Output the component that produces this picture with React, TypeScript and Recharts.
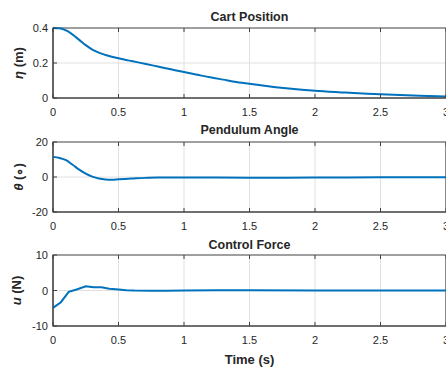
import { Line, LineChart, XAxis, YAxis, CartesianGrid, ReferenceArea } from "recharts";

const timeTicks = [0, 0.5, 1, 1.5, 2, 2.5, 3];

const cartTime = [0, 0.05, 0.1, 0.15, 0.2, 0.25, 0.3, 0.35, 0.4, 0.5, 0.6, 0.7, 0.8, 0.9, 1.0, 1.1, 1.2, 1.3, 1.4, 1.5, 1.6, 1.7, 1.8, 1.9, 2.0, 2.2, 2.4, 2.6, 2.8, 3.0];
const cartPos = [0.4, 0.398, 0.386, 0.362, 0.332, 0.302, 0.277, 0.259, 0.246, 0.227, 0.211, 0.196, 0.18, 0.164, 0.148, 0.133, 0.118, 0.105, 0.092, 0.081, 0.071, 0.062, 0.054, 0.047, 0.041, 0.032, 0.024, 0.018, 0.013, 0.009];
const cartTicks = [0, 0.2, 0.4];

const angleTime = [0, 0.05, 0.1, 0.15, 0.2, 0.25, 0.3, 0.35, 0.4, 0.45, 0.5, 0.6, 0.7, 0.8, 1.0, 1.5, 2.0, 2.5, 3.0];
const angleDeg = [11.5, 10.9, 9.6, 7.0, 4.2, 1.9, 0.2, -0.9, -1.4, -1.5, -1.3, -0.9, -0.5, -0.3, -0.3, -0.4, -0.3, -0.2, -0.1];
const angleTicks = [-20, 0, 20];

const forceTime = [0, 0.06, 0.12, 0.18, 0.25, 0.31, 0.37, 0.43, 0.5, 0.56, 0.62, 0.75, 0.87, 1.0, 1.25, 1.5, 2.0, 2.5, 3.0];
const forceN = [-4.9, -3.3, -0.4, 0.3, 1.2, 0.9, 0.9, 0.5, 0.3, 0.1, 0.0, -0.1, -0.1, 0, 0.05, 0.05, 0.03, 0.02, 0.01];
const forceTicks = [-10, 0, 10];

const cartData = cartTime.map((t, i) => ({ t, v: cartPos[i] }));
const angleData = angleTime.map((t, i) => ({ t, v: angleDeg[i] }));
const forceData = forceTime.map((t, i) => ({ t, v: forceN[i] }));

const W = 446;
const LEFT = 53;
const INK = "#262626";
const FRAME = "#404040";
const BLUE = "#0072BD";

function XTick(props: any) {
    const { x, y, payload, plotH } = props;
    const axisY = y - 6;
    return (
        <g>
            <line x1={x} x2={x} y1={axisY} y2={axisY - 4} stroke={FRAME} />
            <line x1={x} x2={x} y1={axisY - plotH} y2={axisY - plotH + 4} stroke={FRAME} />
            <text x={x} y={axisY + 18} textAnchor="middle" fontSize={11} fill={INK}>{payload.value}</text>
        </g>
    );
}

function YTick(props: any) {
    const { x, y, payload } = props;
    const axisX = x + 6;
    return (
        <g>
            <line x1={axisX} x2={axisX + 4} y1={y} y2={y} stroke={FRAME} />
            <text x={axisX - 5} y={y + 4} textAnchor="end" fontSize={11} fill={INK}>{payload.value}</text>
        </g>
    );
}

function Panel(props: {
    data: { t: number; v: number }[];
    domain: [number, number];
    ticks: number[];
    top: number;
    plotH: number;
    bottom: number;
    sym: string;
    unit: string;
    labelX: number;
    linear?: boolean;
    timeLabel?: boolean;
}) {
    const { data, domain, ticks, top, plotH, bottom, sym, unit, labelX, linear, timeLabel } = props;
    const height = top + plotH + bottom;
    return (
        <LineChart width={W} height={height} data={data} margin={{ top, right: 0, left: 0, bottom: 0 }}>
            <CartesianGrid stroke="#e0e0e0" horizontalValues={ticks.slice(1, -1)} verticalValues={timeTicks.slice(1, -1)} />
            <ReferenceArea x1={0} x2={3} y1={domain[0]} y2={domain[1]} fill="none" stroke={FRAME} strokeWidth={1.2} />
            <XAxis
                dataKey="t"
                type="number"
                domain={[0, 3]}
                ticks={timeTicks}
                interval={0}
                height={bottom}
                tickSize={0}
                tickMargin={6}
                stroke={FRAME}
                tick={<XTick plotH={plotH} />}
                label={timeLabel ? {
                    value: "Time (s)",
                    position: "insideBottom",
                    offset: 4,
                    fill: INK,
                    fontSize: 13,
                    fontWeight: "bold",
                } : undefined}
            />
            <YAxis
                type="number"
                domain={domain}
                ticks={ticks}
                interval={0}
                width={LEFT}
                tickSize={0}
                tickMargin={6}
                stroke={FRAME}
                tick={<YTick />}
                label={{
                    content: (lp: any) => {
                        const vb = lp.viewBox;
                        const cx = labelX;
                        const cy = vb.y + vb.height / 2;
                        return (
                            <text x={cx} y={cy} transform={`rotate(-90 ${cx} ${cy})`} textAnchor="middle" fontSize={13} fontWeight="bold" fill={INK}>
                                <tspan fontStyle="italic">{sym}</tspan>
                                <tspan>{unit}</tspan>
                            </text>
                        );
                    },
                }}
            />
            <Line dataKey="v" type={linear ? "linear" : "monotone"} stroke={BLUE} strokeWidth={2} dot={false} isAnimationActive={false} />
        </LineChart>
    );
}

const titleStyle = (top: number): React.CSSProperties => ({
    position: "absolute",
    top,
    left: LEFT,
    width: W - LEFT,
    textAlign: "center",
    fontSize: 12.5,
    fontWeight: "bold",
    color: INK,
    lineHeight: "14px",
});

export default function App() {
    return (
        <div style={{ position: "absolute", top: 0, left: 0, width: W, height: 368, background: "#fff", fontFamily: "'Liberation Sans', Arial, sans-serif" }}>
            <div style={{ position: "absolute", top: 0, left: 0 }}>
                <Panel data={cartData} domain={[0, 0.4]} ticks={cartTicks} top={28} plotH={70} bottom={20} sym="η" unit=" (m)" labelX={23} />
            </div>
            <div style={{ position: "absolute", top: 118, left: 0 }}>
                <Panel data={angleData} domain={[-20, 20]} ticks={angleTicks} top={24} plotH={70} bottom={20} sym="θ" unit=" (∘)" labelX={23} />
            </div>
            <div style={{ position: "absolute", top: 232, left: 0 }}>
                <Panel data={forceData} domain={[-10, 10]} ticks={forceTicks} top={23} plotH={71} bottom={42} sym="u" unit=" (N)" labelX={21} linear timeLabel />
            </div>
            <div style={titleStyle(10)}>Cart Position</div>
            <div style={titleStyle(123)}>Pendulum Angle</div>
            <div style={titleStyle(238)}>Control Force</div>
        </div>
    );
}
